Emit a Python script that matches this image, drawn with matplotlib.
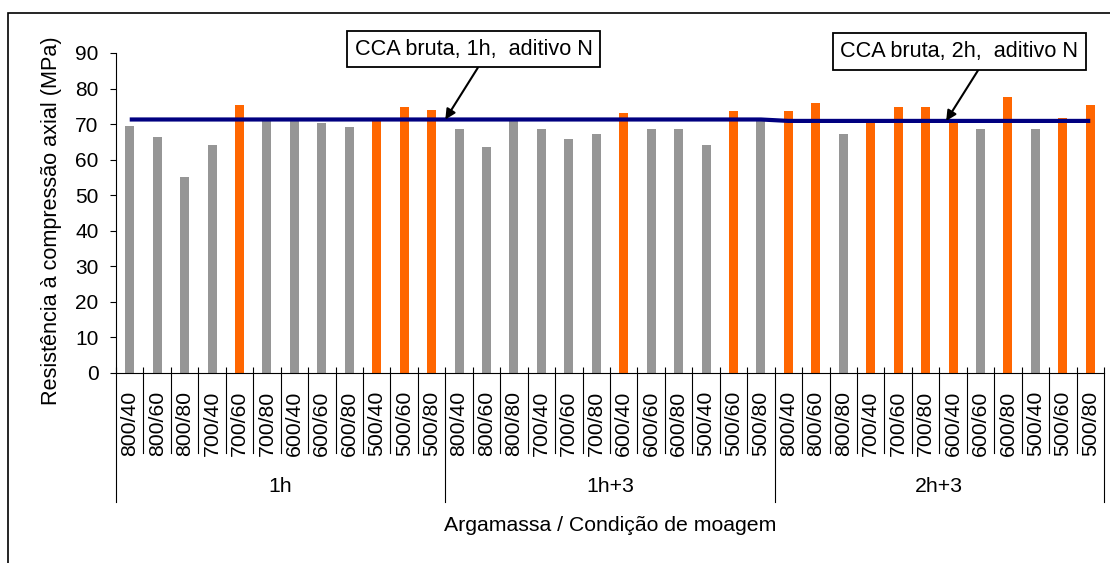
import numpy as np
import matplotlib.pyplot as plt
from matplotlib.patches import Rectangle
import matplotlib.transforms as mtransforms

plt.rcParams['font.family'] = ['Liberation Sans', 'DejaVu Sans']

# --- dados ---
grupos = ['1h', '1h+3', '2h+3']
condicoes = ['800/40', '800/60', '800/80', '700/40', '700/60', '700/80',
             '600/40', '600/60', '600/80', '500/40', '500/60', '500/80']

# resistência das argamassas (MPa), um valor por condição, na ordem dos grupos
res_1h = [69.5, 66.4, 55.1, 64.1, 75.4, 71.2, 71.2, 70.3, 69.2, 71.5, 74.8, 74.0]
res_1h3 = [68.6, 63.6, 71.1, 68.6, 65.8, 67.2, 73.1, 68.6, 68.6, 64.1, 73.7, 71.2]
res_2h3 = [73.7, 75.9, 67.2, 71.1, 74.8, 74.8, 71.1, 68.6, 77.6, 68.6, 71.7, 75.4]

# referência: CCA bruta com aditivo N
ref_1h = 71.3
ref_2h = 70.9

valores = np.array(res_1h + res_1h3 + res_2h3)
referencia = np.array([ref_1h] * 24 + [ref_2h] * 12)
rotulos = condicoes * len(grupos)
n = len(valores)
x = np.arange(n)

# barras acima da referência em laranja
cores = np.where(valores > referencia, '#FF6600', '#969696')

FS = 15.3

fig = plt.figure(figsize=(11.10, 5.63), dpi=100)
ax = fig.add_axes([116 / 1110, 190 / 563, 988 / 1110, 320 / 563])

ax.bar(x, valores, width=0.33, color=cores, zorder=2)
ax.plot(x, referencia, color='#000080', linewidth=3, zorder=3,
        solid_capstyle='butt')

ax.set_xlim(-0.5, n - 0.5)
ax.set_ylim(0, 90)
ax.set_yticks(np.arange(0, 91, 10))
ax.tick_params(axis='y', direction='out', length=4.5, width=0.8,
               labelsize=15, pad=8)
ax.set_xticks(np.arange(-0.5, n, 1.0))
ax.set_xticklabels([])
ax.tick_params(axis='x', direction='in', length=4, width=0.8)
ax.spines['top'].set_visible(False)
ax.spines['right'].set_visible(False)
ax.spines['left'].set_linewidth(0.8)
ax.spines['bottom'].set_linewidth(0.8)

# eixo x em dois níveis
trans = mtransforms.blended_transform_factory(ax.transData, ax.transAxes)
for b in np.arange(-0.5, n, 1.0):
    grande = (b + 0.5) % 12 == 0
    y0 = -0.403 if grande else -0.25
    ax.plot([b, b], [0, y0], color='black', linewidth=0.8,
            transform=trans, clip_on=False)
for i, rot in enumerate(rotulos):
    ax.text(i, -0.057, rot, rotation=90, ha='center', va='top',
            fontsize=FS, transform=trans)
for g, nome in enumerate(grupos):
    ax.text(g * 12 + 5.5, -0.355, nome, ha='center', va='center',
            fontsize=FS, transform=trans)

ax.text(0.5, -0.478, 'Argamassa / Condição de moagem', ha='center',
        va='center', fontsize=FS, transform=ax.transAxes)
fig.text(52 / 1110, 1 - 221 / 563, 'Resistência à compressão axial (MPa)',
         rotation=90, ha='center', va='center', fontsize=FS + 0.3)

# anotações
caixa = dict(boxstyle='square,pad=0.35', fc='white', ec='black', lw=1.3)
seta = dict(arrowstyle='-|>', color='black', lw=1.5, mutation_scale=15,
            shrinkA=0, shrinkB=0)
ax.annotate('CCA bruta, 1h,  aditivo N', xy=(11.5, ref_1h),
            xytext=(473.5, 563 - 49), textcoords='figure pixels',
            ha='center', va='center', fontsize=FS + 0.3, bbox=caixa,
            arrowprops=dict(seta, relpos=(0.54, 0)), zorder=5)
ax.annotate('CCA bruta, 2h,  aditivo N', xy=(29.75, ref_2h),
            xytext=(959.5, 563 - 51.5), textcoords='figure pixels',
            ha='center', va='center', fontsize=FS + 0.3, bbox=caixa,
            arrowprops=dict(seta, relpos=(0.6, 0)), zorder=5)

# moldura externa
fig.patches.append(Rectangle((8 / 1110, -0.1), 1.2, (563 - 13) / 563 + 0.1,
                             transform=fig.transFigure, fill=False,
                             ec='black', lw=1.2))

fig.savefig('out.png', dpi=100)
